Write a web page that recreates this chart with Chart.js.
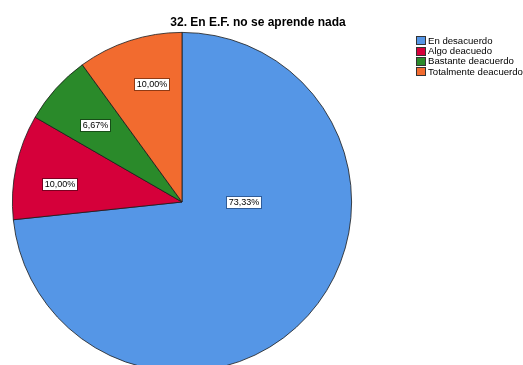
<!DOCTYPE html>
<html>
<head>
<meta charset="utf-8">
<script src="https://cdn.jsdelivr.net/npm/chart.js@4.4.0/dist/chart.umd.min.js"></script>
<style>
  html, body { margin:0; padding:0; width:523px; height:365px; overflow:hidden; background:#fff; }
  #wrap { position:absolute; left:0; top:0; width:523px; height:400px; }
  #title { position:absolute; left:158px; width:200px; top:15px; text-align:center;
           font: bold 12px "Liberation Sans", Arial, sans-serif; color:#000; white-space:nowrap; }
  #legend { position:absolute; left:416px; top:35.5px; font: 9.6px "Liberation Sans", Arial, sans-serif; color:#000; }
  .row { height:10.4px; line-height:10.4px; white-space:nowrap; display:flex; align-items:center; }
  .sw { border:1px solid #333; margin-right:2px; box-sizing:border-box; width:10px; height:9px; }
</style>
</head>
<body>
<div id="wrap"><canvas id="c" width="523" height="400"></canvas></div>
<div id="title"></div>
<div id="legend"></div>
<script>
const titleText = "32. En E.F. no se aprende nada";
const categories = ["En desacuerdo", "Algo deacuedo", "Bastante deacuerdo", "Totalmente deacuerdo"];
const values = [73.33, 10.00, 6.67, 10.00];
const valueLabels = ["73,33%", "10,00%", "6,67%", "10,00%"];
const colors = ["#5596E6", "#D5003A", "#2A8A2A", "#F26B2F"];
const labelBorders = ["#2F5C99", "#7A0020", "#174D17", "#8F3A14"];
// label placement: fraction of radius, and angle (degrees clockwise from 12 o'clock)
const labelRadius = [0.365, 0.73, 0.685, 0.717];
const labelAngle = [90, 278.3, 311.5, 345.7];

document.getElementById('title').textContent = titleText;
const leg = document.getElementById('legend');
categories.forEach((c, i) => {
  const r = document.createElement('div'); r.className = 'row';
  const s = document.createElement('div'); s.className = 'sw'; s.style.background = colors[i];
  const t = document.createElement('span'); t.textContent = c;
  r.appendChild(s); r.appendChild(t); leg.appendChild(r);
});

const labelPlugin = {
  id: 'sliceLabels',
  afterDatasetsDraw(chart) {
    const ctx = chart.ctx;
    const meta = chart.getDatasetMeta(0);
    ctx.save();
    ctx.font = '9px "Liberation Sans", Arial, sans-serif';
    ctx.textAlign = 'center';
    ctx.textBaseline = 'middle';
    meta.data.forEach((arc, i) => {
      const p = arc.getProps(['x','y','startAngle','endAngle','outerRadius'], true);
      let a = (p.startAngle + p.endAngle) / 2;
      if (labelAngle[i] !== null) a = labelAngle[i] * Math.PI / 180 - Math.PI / 2;
      const rr = p.outerRadius * labelRadius[i];
      const cx = p.x + Math.cos(a) * rr;
      const cy = p.y + Math.sin(a) * rr;
      const w = Math.round(ctx.measureText(valueLabels[i]).width + 4);
      const h = 12;
      const bx = Math.round(cx - w / 2) + 0.5, by = Math.round(cy - h / 2) + 0.5;
      ctx.fillStyle = '#fff';
      ctx.fillRect(bx, by, w, h);
      ctx.strokeStyle = labelBorders[i];
      ctx.lineWidth = 1;
      ctx.strokeRect(bx, by, w, h);
      ctx.fillStyle = '#000';
      ctx.fillText(valueLabels[i], bx + w / 2, by + h / 2 + 0.5);
    });
    ctx.restore();
  }
};

new Chart(document.getElementById('c'), {
  type: 'pie',
  data: {
    labels: categories,
    datasets: [{
      data: values,
      backgroundColor: colors,
      borderColor: '#1a1a1a',
      borderWidth: 0.8
    }]
  },
  options: {
    responsive: false,
    animation: false,
    layout: { padding: { left: 12, top: 32, right: 171, bottom: 28 } },
    plugins: { legend: { display: false }, title: { display: false }, tooltip: { enabled: false } }
  },
  plugins: [labelPlugin]
});
</script>
</body>
</html>
